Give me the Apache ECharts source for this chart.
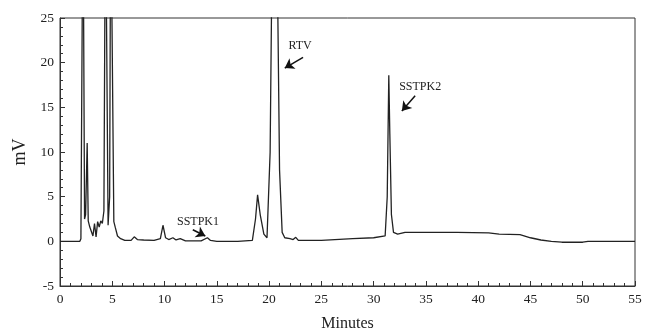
<!DOCTYPE html>
<html><head><meta charset="utf-8">
<script src="https://cdn.jsdelivr.net/npm/echarts@6/dist/echarts.min.js"></script>
<style>html,body{margin:0;padding:0;background:#fff}#c{width:645px;height:331px}</style>
</head><body><div id="c"></div>
<script>
// Retention time (minutes) and detector signal (mV); values above 25 are off-scale peaks (clipped)
var times = [0,1.9,2.0,2.2,2.35,2.45,2.6,2.7,2.85,3.0,3.15,3.3,3.45,3.6,3.75,3.9,4.05,4.2,4.35,4.6,4.75,4.85,5.0,5.15,5.3,5.5,5.8,6.2,6.8,7.1,7.4,8.0,9.0,9.6,9.85,10.1,10.4,10.8,11.1,11.5,12,13.5,14.1,14.4,15,17,18.4,18.7,18.9,19.15,19.5,19.8,20.1,20.35,20.7,21.0,21.25,21.5,22.0,22.3,22.55,22.8,25,28,30,31.1,31.3,31.45,31.55,31.7,31.9,32.3,33,35,38,41,42,44,45,46,47,48,50,50.5,55];
var signal = [0,0,0.3,40,2.5,3,11,2.3,1.6,1.5,0.6,2.0,0.5,2.2,1.6,2.3,2.0,3.4,40,1.8,5,40,40,2.2,1.5,0.6,0.3,0.1,0.1,0.5,0.2,0.15,0.1,0.3,1.8,0.4,0.2,0.4,0.15,0.3,0.05,0.05,0.4,0.1,0,0,0.1,2.5,5.2,3,0.8,0.4,10,40,40,8,1.0,0.4,0.3,0.2,0.45,0.1,0.1,0.3,0.4,0.6,5,18.6,12,3,1.0,0.8,1.0,1.0,1.0,0.95,0.8,0.75,0.4,0.15,0.0,-0.1,-0.1,0,0];
var xTicks = {min:0, max:55, interval:5};
var yTicks = {min:-5, max:25, interval:5};
// Annotations
var annLabels = ['SSTPK1','RTV','SSTPK2'];
var annText = [[13.2,2.2],[22.97,21.9],[34.45,17.3]];
var annArrow = [[[12.7,1.3],[13.9,0.6]],[[23.25,20.6],[21.5,19.4]],[[33.97,16.3],[32.7,14.6]]];

var data = times.map(function(t,i){return [t, signal[i]];});
var font = 'Liberation Serif';
var chart = echarts.init(document.getElementById('c'), null, {renderer:'canvas'});
chart.setOption({
  animation:false,
  grid:{left:60,right:10,top:18,bottom:45,show:true,borderColor:'#333',borderWidth:1,backgroundColor:'transparent',outerBoundsMode:'none',containLabel:false},
  xAxis:{type:'value',min:xTicks.min,max:xTicks.max,interval:xTicks.interval,
    name:'Minutes',nameLocation:'middle',nameGap:30,
    nameTextStyle:{fontFamily:font,fontSize:16,color:'#222'},
    axisLine:{onZero:false,lineStyle:{color:'#333',width:1}},
    axisTick:{inside:true,length:5,lineStyle:{color:'#333'}},
    minorTick:{show:true,splitNumber:5,length:3,lineStyle:{color:'#333'}},
    splitLine:{show:false},
    axisLabel:{fontFamily:font,fontSize:13.5,color:'#222',margin:6}},
  yAxis:{type:'value',min:yTicks.min,max:yTicks.max,interval:yTicks.interval,
    name:'mV',nameLocation:'middle',nameGap:27,nameRotate:90,
    nameTextStyle:{fontFamily:font,fontSize:18,color:'#222'},
    axisLine:{onZero:false,lineStyle:{color:'#333',width:1}},
    axisTick:{inside:true,length:5,lineStyle:{color:'#333'}},
    minorTick:{show:true,splitNumber:5,length:3,lineStyle:{color:'#333'}},
    splitLine:{show:false},
    axisLabel:{fontFamily:font,fontSize:13.5,color:'#222',margin:6}},
  series:[{type:'line',data:data,showSymbol:false,clip:true,
    lineStyle:{color:'#222',width:1.3},
    markPoint:{symbol:'circle',symbolSize:0,silent:true,
      label:{show:true,position:'inside',fontFamily:font,fontSize:12,color:'#222'},
      data:annLabels.map(function(l,i){return {coord:annText[i],value:l,label:{formatter:l}};})},
    markLine:{silent:true,symbol:['none','arrow'],symbolSize:9,label:{show:false},
      lineStyle:{color:'#111',width:1.5,type:'solid'},
      data:annArrow.map(function(a){return [{coord:a[0]},{coord:a[1]}];})}
  }]
});
</script></body></html>
